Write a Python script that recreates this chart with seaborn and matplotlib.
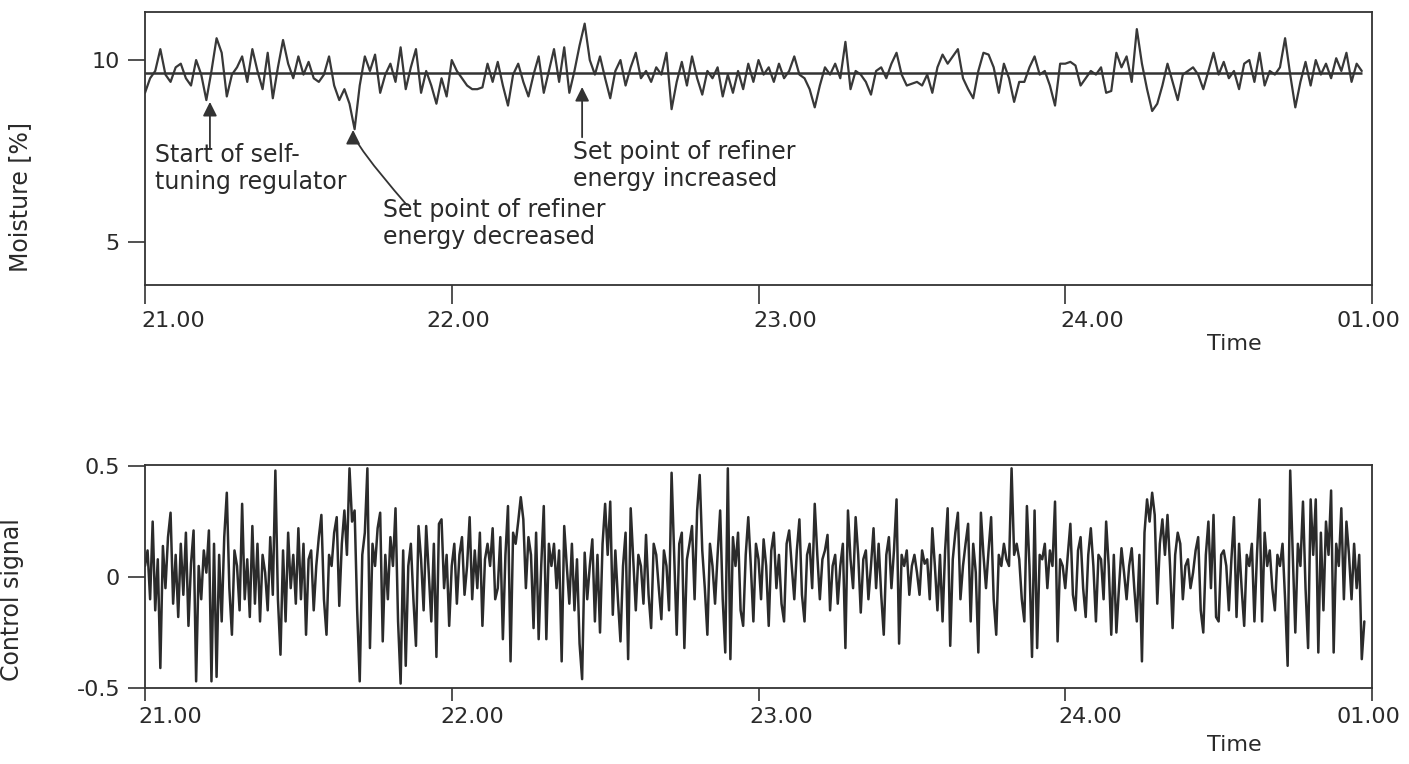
import numpy as np
import pandas as pd
import matplotlib
matplotlib.use("Agg")
import matplotlib.pyplot as plt
import matplotlib.transforms as mtransforms
import seaborn as sns

# ---------------- data ----------------
# moisture [%], one reading per minute from 21.00
moisture = [
    9.1, 9.5, 9.7, 10.3, 9.6, 9.4, 9.8, 9.9, 9.5, 9.3,
    10.0, 9.6, 8.9, 9.7, 10.6, 10.2, 9.0, 9.6, 9.8, 10.1,
    9.4, 10.3, 9.7, 9.2, 10.2, 8.95, 9.8, 10.55, 9.9, 9.5,
    10.1, 9.6, 9.95, 9.5, 9.4, 9.6, 10.1, 9.3, 8.9, 9.2,
    8.8, 8.1, 9.3, 10.1, 9.7, 10.15, 9.1, 9.6, 9.9, 9.4,
    10.35, 9.2, 9.8, 10.3, 9.1, 9.7, 9.3, 8.8, 9.5, 9.0,
    10.0, 9.7, 9.5, 9.3, 9.2, 9.2, 9.25, 9.9, 9.4, 9.95,
    9.3, 8.75, 9.6, 9.9, 9.4, 9.0, 9.6, 10.1, 9.1, 9.7,
    10.3, 9.4, 10.35, 9.1, 9.7, 10.4, 11.0, 10.0, 9.6, 10.1,
    9.5, 8.95, 9.7, 10.0, 9.3, 9.8, 10.2, 9.5, 9.7, 9.4,
    9.8, 9.6, 10.2, 8.65, 9.4, 9.95, 9.3, 10.1, 9.5, 9.05,
    9.7, 9.5, 9.8, 9.0, 9.6, 9.1, 9.7, 9.2, 9.9, 9.4,
    10.0, 9.6, 9.8, 9.4, 9.9, 9.5, 9.7, 10.1, 9.6, 9.5,
    9.2, 8.7, 9.3, 9.8, 9.6, 9.9, 9.5, 10.5, 9.2, 9.7,
    9.6, 9.4, 9.05, 9.7, 9.8, 9.5, 9.9, 10.2, 9.6, 9.3,
    9.35, 9.4, 9.3, 9.6, 9.1, 9.8, 10.15, 9.9, 10.1, 10.3,
    9.5, 9.2, 8.95, 9.7, 10.2, 10.15, 9.8, 9.1, 9.9, 9.5,
    8.85, 9.4, 9.4, 9.8, 10.1, 9.6, 9.7, 9.3, 8.75, 9.9,
    9.9, 9.95, 9.85, 9.3, 9.5, 9.7, 9.6, 9.8, 9.1, 9.15,
    10.2, 9.8, 10.1, 9.4, 10.85, 9.9, 9.2, 8.6, 8.8, 9.3,
    9.9, 9.4, 8.9, 9.6, 9.7, 9.8, 9.6, 9.2, 9.7, 10.2,
    9.6, 9.95, 9.5, 9.7, 9.2, 9.9, 10.0, 9.4, 10.2, 9.3,
    9.7, 9.6, 9.8, 10.6, 9.6, 8.7, 9.4, 9.95, 9.3, 10.0,
    9.6, 9.9, 9.5, 10.05, 9.7, 10.2, 9.4, 9.9, 9.7,
]
moisture_step_min = 1.0
moisture_setpoint = 9.65

# control signal, one reading per half minute from 21.00
control_signal = [
    0.05, 0.12, -0.10, 0.25, -0.15, 0.08, -0.41, 0.14, -0.05, 0.18,
    0.29, -0.12, 0.10, -0.18, 0.15, -0.08, 0.20, -0.22, 0.06, 0.21,
    -0.47, 0.05, -0.10, 0.12, 0.02, 0.21, -0.47, 0.15, -0.45, 0.10,
    -0.20, 0.18, 0.38, -0.05, -0.26, 0.12, 0.05, -0.15, 0.33, -0.10,
    0.08, -0.18, 0.23, -0.12, 0.15, -0.20, 0.10, 0.02, -0.15, 0.18,
    -0.08, 0.48, -0.10, -0.35, 0.12, -0.20, 0.20, -0.05, 0.10, -0.12,
    0.22, -0.10, 0.15, -0.26, 0.08, 0.12, -0.15, 0.05, 0.18, 0.28,
    -0.10, -0.26, 0.10, 0.05, 0.20, 0.27, -0.13, 0.15, 0.30, 0.10,
    0.49, 0.25, 0.30, -0.15, -0.47, 0.10, 0.20, 0.49, -0.32, 0.15,
    0.05, 0.22, 0.29, -0.29, 0.10, -0.10, 0.18, 0.05, 0.31, -0.20,
    -0.48, 0.12, -0.40, 0.05, 0.15, -0.10, -0.31, 0.23, 0.08, -0.15,
    0.23, 0.02, -0.20, 0.15, -0.36, 0.24, 0.26, -0.05, 0.10, -0.22,
    0.05, 0.15, -0.12, 0.10, 0.18, -0.08, 0.05, 0.27, -0.10, 0.12,
    -0.05, 0.20, -0.22, 0.08, 0.15, 0.05, 0.22, -0.10, -0.05, 0.18,
    -0.28, 0.10, 0.32, -0.38, 0.20, 0.15, 0.25, 0.36, 0.26, -0.05,
    0.18, 0.10, -0.23, 0.20, -0.28, 0.05, 0.32, -0.28, 0.15, 0.05,
    0.15, -0.05, 0.12, -0.38, 0.23, 0.05, -0.12, 0.15, -0.15, 0.08,
    -0.30, -0.46, 0.11, -0.10, 0.05, 0.17, -0.20, 0.10, -0.25, 0.15,
    0.33, 0.10, 0.34, -0.17, 0.12, -0.10, -0.29, 0.05, 0.20, -0.37,
    0.31, 0.08, -0.15, 0.10, 0.05, -0.12, 0.19, -0.08, -0.23, 0.15,
    0.10, -0.05, -0.19, 0.12, 0.05, -0.15, 0.47, 0.10, -0.26, 0.15,
    0.20, -0.32, 0.08, 0.15, 0.23, -0.10, 0.30, 0.46, 0.12, -0.05,
    -0.26, 0.15, 0.05, -0.12, 0.10, 0.30, -0.10, -0.34, 0.49, -0.37,
    0.18, 0.05, 0.20, -0.15, -0.22, 0.10, 0.27, 0.05, -0.20, 0.15,
    0.08, -0.10, 0.17, 0.05, -0.22, 0.12, 0.20, -0.05, 0.10, -0.12,
    -0.20, 0.15, 0.21, 0.05, -0.10, 0.12, 0.26, -0.08, -0.20, 0.10,
    0.15, -0.05, 0.33, 0.10, -0.10, 0.08, 0.12, 0.19, -0.15, 0.05,
    0.10, -0.12, 0.05, 0.15, -0.32, 0.30, 0.08, -0.05, 0.27, 0.10,
    -0.16, 0.08, 0.12, -0.10, 0.05, 0.22, -0.05, 0.15, -0.08, -0.26,
    0.10, 0.18, -0.05, 0.12, 0.35, -0.30, 0.10, 0.05, 0.12, -0.08,
    0.05, 0.10, 0.02, -0.08, 0.12, 0.06, 0.08, -0.10, 0.22, 0.05,
    -0.15, 0.10, -0.20, 0.12, 0.31, -0.31, 0.08, 0.20, 0.29, -0.10,
    0.05, 0.15, 0.24, -0.20, 0.15, 0.02, -0.34, 0.29, 0.10, -0.05,
    0.12, 0.27, -0.10, -0.26, 0.10, 0.05, 0.15, 0.08, 0.05, 0.49,
    0.10, 0.15, 0.08, -0.10, -0.20, 0.32, 0.05, -0.36, 0.30, -0.32,
    0.10, 0.08, 0.15, -0.05, 0.12, 0.05, 0.34, -0.29, 0.08, 0.05,
    -0.05, 0.10, 0.24, -0.08, -0.15, 0.12, 0.18, -0.05, -0.18, 0.10,
    0.22, 0.05, -0.20, 0.10, 0.08, -0.10, 0.25, 0.05, -0.26, 0.10,
    -0.25, -0.05, 0.13, 0.02, -0.10, 0.05, 0.13, -0.05, -0.20, 0.10,
    -0.38, 0.20, 0.35, 0.25, 0.38, 0.28, -0.12, 0.15, 0.26, 0.10,
    0.28, 0.05, -0.23, 0.10, 0.20, 0.15, -0.10, 0.05, 0.08, -0.05,
    0.02, 0.12, 0.18, -0.15, -0.25, 0.10, 0.25, -0.05, 0.28, -0.18,
    -0.20, 0.10, 0.12, 0.05, -0.15, 0.08, 0.27, -0.18, 0.15, -0.05,
    -0.22, 0.10, 0.05, 0.15, -0.20, 0.10, 0.35, -0.20, 0.20, 0.05,
    0.12, -0.05, -0.15, 0.10, 0.05, 0.15, -0.10, -0.40, 0.48, 0.10,
    -0.25, 0.15, 0.05, 0.34, -0.05, -0.32, 0.35, 0.10, 0.35, -0.34,
    0.20, -0.15, 0.25, 0.10, 0.39, -0.34, 0.15, 0.05, 0.31, -0.10,
    0.25, 0.10, -0.10, 0.15, -0.05, 0.10, -0.37, -0.20,
]
control_step_min = 0.5

time_ticks = [0, 60, 120, 180, 240]
time_labels = ["21.00", "22.00", "23.00", "24.00", "01.00"]
moisture_ticks = [5, 10]
moisture_tick_labels = ["5", "10"]
control_ticks = [-0.5, 0, 0.5]
control_tick_labels = ["-0.5", "0", "0.5"]

annotations = [
    # text, text anchor (min, %), arrow tip (min, %), arrow tail (min, %), connection
    ("Start of self-\ntuning regulator", (1.9, 7.03), (12.7, 8.85), (12.7, 7.58), "arc3,rad=0"),
    ("Set point of refiner\nenergy decreased", (46.5, 5.52), (40.7, 8.08), (51.2, 6.02), "angle3,angleA=131,angleB=90"),
    ("Set point of refiner\nenergy increased", (83.7, 7.10), (85.5, 9.26), (85.5, 7.88), "arc3,rad=0"),
]

# ---------------- style ----------------
sns.set_theme(style="white")
plt.rcParams["font.family"] = ["DejaVu Sans"]
ink = "#333333"
W, H = 1409, 764

fig = plt.figure(figsize=(W / 100, H / 100), dpi=100)
ax1 = fig.add_axes([145 / W, 1 - 285 / H, 1227 / W, 273 / H])
ax2 = fig.add_axes([145 / W, 1 - 688 / H, 1227 / W, 223 / H])

df_m = pd.DataFrame({"minutes": np.arange(len(moisture)) * moisture_step_min,
                     "moisture": moisture})
df_c = pd.DataFrame({"minutes": np.arange(len(control_signal)) * control_step_min,
                     "control": control_signal})

sns.lineplot(data=df_m, x="minutes", y="moisture", ax=ax1, color="#383838",
             lw=1.6, estimator=None, sort=False)
ax1.hlines(moisture_setpoint, df_m["minutes"].iloc[0], df_m["minutes"].iloc[-1],
           color=ink, lw=1.8, zorder=3)

sns.lineplot(data=df_c, x="minutes", y="control", ax=ax2, color="#2b2b2b",
             lw=1.8, estimator=None, sort=False)

ax1.set_xlim(0, 240)
ax1.set_ylim(3.82, 11.32)
ax2.set_xlim(0, 240)
ax2.set_ylim(-0.5, 0.505)

for ax in (ax1, ax2):
    ax.set_xticks(time_ticks)
    ax.set_xticklabels(time_labels)
    ax.set_xlabel("")
    for sp in ax.spines.values():
        sp.set_visible(True)
        sp.set_color(ink)
        sp.set_linewidth(1.3)
    ax.tick_params(axis="both", which="major", direction="out", colors=ink,
                   labelcolor="#2a2a2a", labelsize=16, width=1.2,
                   bottom=True, left=True, top=False, right=False)
    ax.tick_params(axis="y", length=12, pad=6)

ax1.tick_params(axis="x", length=14, pad=5)
ax2.tick_params(axis="x", length=9, pad=5)

ax1.set_yticks(moisture_ticks)
ax1.set_yticklabels(moisture_tick_labels)
ax2.set_yticks(control_ticks)
ax2.set_yticklabels(control_tick_labels)

ax1.set_ylabel("Moisture [%]", fontsize=17, color="#2a2a2a")
ax1.yaxis.set_label_coords(-0.092, 0.322)
ax2.set_ylabel("Control signal", fontsize=17, color="#2a2a2a")
ax2.yaxis.set_label_coords(-0.099, 0.395)

# small shifts of the hand-lettered time labels
top_shift_px = [28, 7, 27, 27, -4]
bottom_shift_px = [25, 21, 23, 25, -4]
for ax, shifts in ((ax1, top_shift_px), (ax2, bottom_shift_px)):
    for lab, dx in zip(ax.get_xticklabels(), shifts):
        lab.set_transform(lab.get_transform() +
                          mtransforms.ScaledTranslation(dx / 100, 0, fig.dpi_scale_trans))

fig.text(1234 / W, 1 - 344 / H, "Time", ha="center", va="center", fontsize=16, color="#2a2a2a")
fig.text(1234 / W, 1 - 745 / H, "Time", ha="center", va="center", fontsize=16, color="#2a2a2a")

for text, txy, tip, tail, conn in annotations:
    ax1.text(txy[0], txy[1], text, ha="left", va="center", fontsize=17,
             color="#2a2a2a", linespacing=1.15)
    ax1.annotate("", xy=tip, xytext=tail,
                 arrowprops=dict(arrowstyle="-|>,head_length=0.6,head_width=0.3",
                                 mutation_scale=14, color=ink, lw=1.3,
                                 connectionstyle=conn, shrinkA=0, shrinkB=0))

fig.savefig("out.png", dpi=100, facecolor="white")
